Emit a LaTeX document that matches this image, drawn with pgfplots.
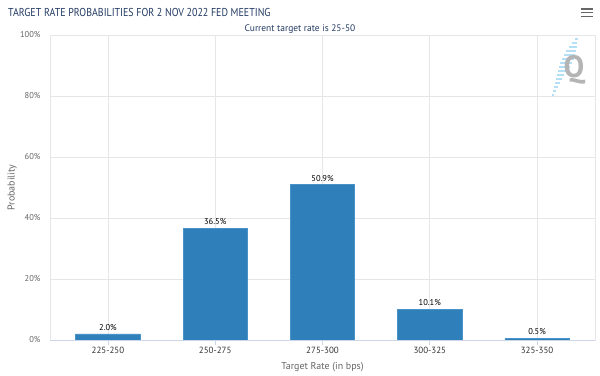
\documentclass[border=0pt]{standalone}
\usepackage{fontspec}
\setmainfont{PT Sans}
\usepackage{graphicx}
\usepackage{pgfplots}
\pgfplotsset{compat=1.18}
\definecolor{barblue}{HTML}{2F7FBA}
\definecolor{baredge}{HTML}{4A93C8}
\definecolor{titleblue}{HTML}{233B63}
\definecolor{gridgray}{HTML}{E6E6E6}
\definecolor{axisgray}{HTML}{CCD6EB}
\definecolor{labelgray}{HTML}{666666}
\definecolor{xlabgray}{HTML}{333333}
\definecolor{qgray}{HTML}{B4B4B4}
\definecolor{qblue}{HTML}{B5DFF5}
\begin{document}
\begin{tikzpicture}[x=1bp,y=1bp]
\useasboundingbox (0,0) rectangle (600,375);
\fill[white] (0,0) rectangle (600,375);
% watermark
\foreach \yy/\xa/\xb in {336/575/578, 332/572/577, 328/569/577, 324/566/576, 320/564/575, 316/562/574, 312/560/572, 308/559/570, 304/558/567, 300/557/564, 296/556/562, 292/555/560, 288/554/558, 284/553/556, 280/552/554}
  \draw[qblue, line width=1.2bp] (\xa,\yy) -- (\xb,\yy);
\node[text=qgray, font=\bfseries\fontsize{31}{31}\selectfont, inner sep=0] at (574,305) {Q};
% hamburger
\foreach \yy in {366,362.5,358.5}
  \draw[labelgray, line width=1.8bp] (581,\yy) -- (593,\yy);
% titles
\node[anchor=base west, text=titleblue, font=\fontsize{11.5}{14}\selectfont, inner sep=0] at (8,359) {\scalebox{0.87}[1]{TARGET RATE PROBABILITIES FOR 2 NOV 2022 FED MEETING}};
\node[anchor=base, text=titleblue, font=\fontsize{9.5}{11}\selectfont, inner sep=0] at (300,343.5) {Current target rate is 25-50};
\begin{axis}[
  at={(50bp,35bp)}, anchor=south west,
  scale only axis, width=545bp, height=305bp,
  /pgf/number format/assume math mode=true,
  ymin=0, ymax=100, xmin=-0.54, xmax=4.54,
  ybar, bar width=0.6,
  xtick={0,1,2,3,4},
  xticklabels={225-250,250-275,275-300,300-325,325-350},
  ytick={0,20,40,60,80,100},
  yticklabel={\pgfmathprintnumber{\tick}\%},
  grid=major,
  major grid style={draw=gridgray, line width=0.6bp},
  axis line style={draw=gridgray, line width=0.6bp},
  tick align=outside, tick pos=left,
  major tick length=5bp,
  x tick style={draw=axisgray, line width=0.6bp},
  y tick style={draw=none},
  x tick label style={font=\fontsize{9}{10}\selectfont, text=xlabgray, yshift=1bp},
  y tick label style={font=\fontsize{8.5}{10}\selectfont, text=labelgray, xshift=-1bp},
  xlabel={Target Rate (in bps)},
  ylabel={Probability},
  xlabel style={font=\fontsize{10}{11}\selectfont, text=labelgray, at={(axis description cs:0.5,0)}, anchor=base, yshift=-29bp},
  ylabel style={font=\fontsize{10}{11}\selectfont, text=labelgray, at={(axis description cs:0,0.5)}, anchor=center, yshift=38bp},
  nodes near coords={\pgfmathprintnumber[fixed,fixed zerofill,precision=1]{\pgfplotspointmeta}\%},
  every node near coord/.append style={font=\fontsize{8.5}{10}\selectfont, text=black},
  clip=false,
]
\addplot[fill=barblue, draw=baredge, line width=0.6bp] coordinates {(0,2.0) (1,36.5) (2,50.9) (3,10.1) (4,0.5)};
\draw[axisgray, line width=0.8bp] (rel axis cs:0,0) -- (rel axis cs:1,0);
\end{axis}
\end{tikzpicture}
\end{document}
